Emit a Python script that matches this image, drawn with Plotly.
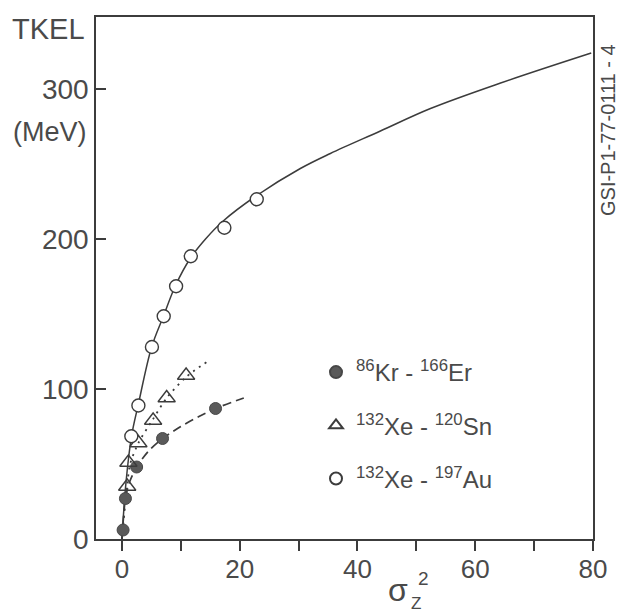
import plotly.graph_objects as go

# ---------------- data ----------------
# 86Kr - 166Er (filled circles)
kr_x = [0.2, 0.6, 2.5, 6.9, 15.9]
kr_y = [6, 27, 48, 67, 87]
# 132Xe - 120Sn (open triangles)
sn_x = [0.9, 1.1, 2.8, 5.3, 7.6, 10.9]
sn_y = [35, 51, 64, 79, 94, 109]
# 132Xe - 197Au (open circles)
au_x = [1.6, 2.8, 5.1, 7.1, 9.2, 11.7, 17.4, 22.9]
au_y = [68.5, 89, 128, 148.5, 168.5, 188.5, 207.5, 226.5]

# curves drawn in the figure
au_fit_x = [0, 0.7, 1.65, 2.8, 5.05, 7.1, 9.1, 11.6, 14.2, 17.2, 22.9, 30.3, 35.4, 43.9, 52.4, 64.3, 79.7]
au_fit_y = [0, 38, 69, 90, 128, 149, 169, 187, 200, 212, 229, 247, 257, 272, 287, 304, 324]
sn_fit_x = [0, 0.9, 1.4, 2.8, 5.3, 7.6, 10.9, 14.4]
sn_fit_y = [0, 36, 50, 64, 80, 94, 108, 118]
kr_fit_x = [0, 0.6, 1.3, 2.5, 4.5, 6.9, 10, 13, 15.9, 20.7]
kr_fit_y = [0, 27, 38, 48, 58.5, 67, 75, 81.5, 87, 94]

y_tickvals = [0, 100, 200, 300]

legend_names = ["<sup>86</sup>Kr - <sup>166</sup>Er",
                "<sup>132</sup>Xe - <sup>120</sup>Sn",
                "<sup>132</sup>Xe - <sup>197</sup>Au"]

# ---------------- styling ----------------
INK = "#3c3c3c"
TXT = "#4a4a4a"
FONT = "Liberation Sans"
W, H = 621, 614
L, R, T, B = 96, 28, 17, 75
PW, PH = W - L - R, H - T - B


def px(xp):
    return (xp - L) / PW


def py(yp):
    return (H - B - yp) / PH


fig = go.Figure()

fig.add_trace(go.Scatter(x=au_fit_x, y=au_fit_y, mode="lines", showlegend=False, hoverinfo="skip",
                         line=dict(color=INK, width=1.5, shape="spline", smoothing=1.0)))
fig.add_trace(go.Scatter(x=sn_fit_x, y=sn_fit_y, mode="lines", showlegend=False, hoverinfo="skip",
                         line=dict(color=INK, width=1.8, dash="2px,5px", shape="spline", smoothing=0.8)))
fig.add_trace(go.Scatter(x=kr_fit_x, y=kr_fit_y, mode="lines", showlegend=False, hoverinfo="skip",
                         line=dict(color=INK, width=1.7, dash="9px,5px", shape="spline", smoothing=0.8)))

fig.add_trace(go.Scatter(x=kr_x, y=kr_y, mode="markers", name=legend_names[0], legendgroup="kr",
                         marker=dict(symbol="circle", size=12, color="#5a5a5a",
                                     line=dict(color="#474747", width=1))))
fig.add_trace(go.Scatter(x=sn_x, y=sn_y, mode="markers", name=legend_names[1], legendgroup="sn",
                         marker=dict(symbol="triangle-up-open", size=15,
                                     line=dict(color=INK, width=1.4), color=INK)))
fig.add_trace(go.Scatter(x=au_x, y=au_y, mode="markers", name=legend_names[2], legendgroup="au",
                         marker=dict(symbol="circle", size=13, color="white",
                                     line=dict(color=INK, width=1.4))))

axis_common = dict(showline=True, linecolor=INK, linewidth=1.5, mirror=True,
                   showgrid=False, zeroline=False, tickcolor=INK, tickwidth=1.5,
                   ticklen=10)

fig.update_layout(
    width=W, height=H,
    margin=dict(l=L, r=R, t=T, b=B),
    paper_bgcolor="white", plot_bgcolor="white",
    font=dict(family=FONT, color=INK, size=24),
    xaxis=dict(range=[-4.4, 80], tickmode="linear", tick0=0, dtick=20,
               ticks="outside", ticklabelstandoff=-4,
               tickfont=dict(family=FONT, size=26, color=TXT),
               minor=dict(dtick=10, tick0=0, ticks="outside", ticklen=10, tickwidth=1.5, tickcolor=INK),
               **axis_common),
    yaxis=dict(range=[0, 348], tickmode="array", tickvals=y_tickvals,
               ticks="inside", ticklabelstandoff=0,
               tickfont=dict(family=FONT, size=28, color=TXT),
               **axis_common),
    legend=dict(x=px(316), y=py(350), xanchor="left", yanchor="top",
                bgcolor="rgba(0,0,0,0)", font=dict(family=FONT, size=24, color=TXT),
                tracegroupgap=19, itemsizing="constant", traceorder="grouped"),
    showlegend=True,
)

ann = [
    dict(text="TKEL", x=px(48), y=py(29), size=29),
    dict(text="(MeV)", x=px(50), y=py(132), size=27),
    dict(text="GSI-P1-77-0111 - 4", x=px(608), y=py(130), textangle=-90, size=20),
    dict(text="σ", x=px(398), y=py(590), size=32),
    dict(text="2", x=px(423), y=py(578), size=19),
    dict(text="Z", x=px(416), y=py(603), size=17),
]
annotations = []
for a in ann:
    size = a.pop("size")
    a.update(xref="paper", yref="paper", showarrow=False, xanchor="center", yanchor="middle",
             font=dict(family=FONT, color=TXT, size=size))
    annotations.append(a)
fig.update_layout(annotations=annotations)

fig.write_html("out.html")
